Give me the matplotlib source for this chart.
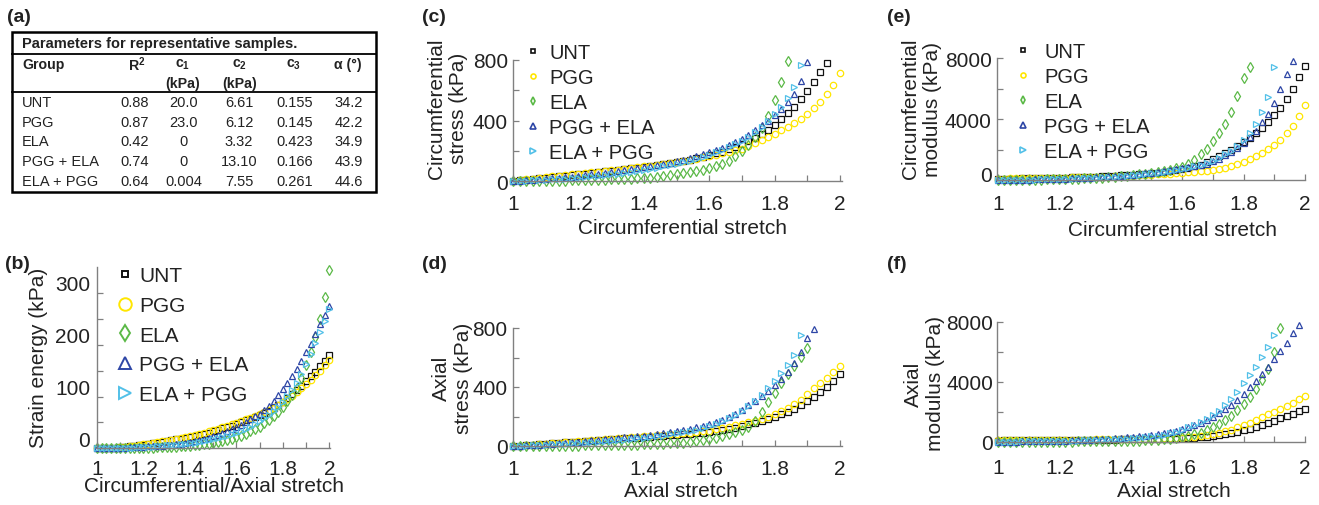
import matplotlib
matplotlib.use("Agg")
import matplotlib.pyplot as plt
from matplotlib.lines import Line2D
from matplotlib.patches import Rectangle
from matplotlib.transforms import ScaledTranslation

plt.rcParams['font.family'] = ['Liberation Sans', 'DejaVu Sans']
plt.rcParams['mathtext.fontset'] = 'custom'
plt.rcParams['mathtext.rm'] = 'Liberation Sans'
plt.rcParams['mathtext.bf'] = 'Liberation Sans:bold'

W, H = 1319, 506
TXT = '#222222'
GRAY = '#808080'
FS = 15

# ---- data ----
GROUPS = ['UNT', 'PGG', 'ELA', 'PGG + ELA', 'ELA + PGG']
COLORS = ['#111111', '#FFE600', '#5BB947', '#2E46A6', '#52C0E8']
MARKERS = ['s', 'o', 'd', '^', '>']
SIZES = [3.8, 4.6, 5.0, 4.8, 4.8]

# table (a)
T_R2 = ['0.88', '0.87', '0.42', '0.74', '0.64']
T_C1 = ['20.0', '23.0', '0', '0', '0.004']
T_C2 = ['6.61', '6.12', '3.32', '13.10', '7.55']
T_C3 = ['0.155', '0.145', '0.423', '0.166', '0.261']
T_ALPHA = ['34.2', '42.2', '34.9', '43.9', '44.6']

STRETCH = [1.00, 1.02, 1.04, 1.06, 1.08, 1.10, 1.12, 1.14, 1.16, 1.18,
           1.20, 1.22, 1.24, 1.26, 1.28, 1.30, 1.32, 1.34, 1.36, 1.38,
           1.40, 1.42, 1.44, 1.46, 1.48, 1.50, 1.52, 1.54, 1.56, 1.58,
           1.60, 1.62, 1.64, 1.66, 1.68, 1.70, 1.72, 1.74, 1.76, 1.78,
           1.80, 1.82, 1.84, 1.86, 1.88, 1.90, 1.92, 1.94, 1.96, 1.98, 2.00]

# (b) strain energy, kPa
ENERGY = [
    [0, 0.1, 0.4, 0.9, 1.5, 2.2, 3.0, 3.9, 4.9, 6.0, 7.2, 8.4, 9.7, 11, 12.4, 13.9, 15.4,
     17, 18.6, 20.3, 22, 24, 26, 28.2, 30.5, 33, 35.6, 38.3, 41.1, 44, 47, 50.3, 53.7,
     57.2, 60.6, 64, 68.2, 72.5, 77.5, 83.5, 90, 97, 104.5, 112, 120.5, 130, 139, 148,
     158, 169, 180],
    [0, 0.1, 0.4, 0.9, 1.5, 2.3, 3.2, 4.2, 5.3, 6.5, 7.8, 9.1, 10.5, 12, 13.5, 15, 16.7,
     18.4, 20.2, 22, 24, 26.1, 28.2, 30.4, 32.7, 35, 37.6, 40.3, 43.1, 46, 49, 52.3, 55.7,
     59.1, 62.5, 66, 69.8, 73.8, 78.2, 83.3, 89, 95, 101.5, 108.5, 116, 124, 132.5, 141,
     150, 160, 170],
    [0, 0, 0.1, 0.1, 0.2, 0.3, 0.4, 0.5, 0.6, 0.8, 1.0, 1.2, 1.5, 1.8, 2.1, 2.5, 2.9, 3.3,
     3.8, 4.4, 5, 5.8, 6.6, 7.6, 8.7, 10, 11.6, 13.4, 15.5, 18, 21, 24.5, 28.5, 33, 37.5,
     42, 48, 54.5, 62, 70.5, 80, 91, 103, 117, 136, 160, 186, 215, 250, 292, 345],
    [0, 0.2, 0.4, 0.6, 0.8, 1.0, 1.4, 1.8, 2.2, 2.6, 3.0, 3.5, 4.0, 4.6, 5.3, 6.0, 6.9,
     7.9, 9.0, 10.4, 12, 13.8, 15.8, 18, 20.4, 23, 26, 29.2, 32.7, 36.6, 41, 45.8, 50.8,
     56, 61.4, 67, 74, 82, 92, 103, 115, 127, 140, 154, 169, 185, 202, 220, 239, 257, 275],
    [0, 0.1, 0.2, 0.4, 0.6, 0.8, 1.0, 1.2, 1.5, 1.8, 2.2, 2.7, 3.3, 4.0, 4.8, 5.6, 6.4,
     7.3, 8.2, 9.1, 10, 11.1, 12.3, 13.6, 15.2, 17, 19.1, 21.4, 24, 26.9, 30, 33.5, 37.3,
     41.5, 46.5, 52, 57.8, 64.5, 72, 80.5, 90, 101, 113, 127, 144, 163, 183, 204, 225,
     246, 268],
]

# (c) circumferential stress, kPa
CIRC_STRESS = [
    [0, 4, 9, 13, 18, 22, 27, 31, 36, 40, 45, 49, 54, 59, 63, 68, 73, 78, 83, 88, 93, 99,
     105, 111, 118, 125, 133, 141, 150, 160, 170, 182, 195, 209, 224, 242, 262, 285, 311,
     340, 372, 408, 448, 492, 541, 596, 657, 722, 778],
    [0, 5, 10, 15, 20, 25, 30, 35, 39, 44, 49, 53, 58, 62, 67, 71, 76, 81, 86, 91, 96,
     101, 107, 113, 119, 126, 133, 140, 148, 156, 165, 174, 183, 193, 203, 214, 230, 248,
     268, 290, 312, 334, 358, 384, 412, 444, 482, 524, 577, 632, 712],
    [0, 0.2, 0.5, 0.8, 1.2, 1.6, 2.0, 2.5, 3, 3.6, 4.2, 5, 6, 7, 8.5, 10, 11.5, 13.3,
     15.3, 17.5, 20, 23, 26.5, 31, 37, 44, 51, 58, 66, 75, 85, 98, 113, 135, 163, 198,
     240, 288, 350, 432, 538, 654, 795],
    [0, 2, 4, 7, 10, 13, 17, 21, 25, 29, 34, 39, 44, 49, 54, 60, 66, 72, 78, 85, 92, 99,
     106, 113, 121, 130, 140, 151, 163, 176, 190, 205, 221, 239, 259, 280, 306, 336, 368,
     400, 436, 476, 522, 578, 660, 790],
    [0, 1, 2, 4, 6, 8, 10, 13, 16, 19, 22, 26, 30, 34, 38, 43, 48, 54, 60, 66, 73, 80,
     88, 96, 105, 114, 124, 135, 147, 160, 174, 189, 205, 223, 243, 265, 292, 322, 356,
     396, 440, 490, 548, 620, 765],
]

# (d) axial stress, kPa
AXIAL_STRESS = [
    [0, 3, 6, 9, 12, 15, 18, 21, 24, 27, 30, 33, 36, 39, 42, 45, 48, 51, 54, 57, 60, 63,
     66, 69, 72, 75, 78.5, 82, 86, 90.5, 95, 101, 108, 116, 125, 135, 146, 158, 171, 184,
     198, 214, 232, 252, 276, 302, 332, 364, 400, 440, 485],
    [0, 3.3, 6.6, 9.9, 13.2, 16.5, 19.8, 23.1, 26.4, 29.7, 33, 36.2, 39.4, 42.6, 45.8,
     49, 52.2, 55.4, 58.6, 61.8, 65, 68.3, 71.6, 75, 78.5, 82, 86, 90.3, 95, 100, 105,
     113, 121, 130, 140, 150, 160, 172, 185, 199, 215, 236, 258, 282, 315, 352, 390, 425,
     462, 502, 545],
    [0, 0.1, 0.3, 0.5, 0.8, 1.1, 1.5, 1.9, 2.3, 2.7, 3.2, 3.7, 4.2, 4.8, 5.4, 6, 6.8,
     7.6, 8.5, 9.5, 10.5, 11.7, 13, 14.8, 17, 20, 23.5, 27.5, 32, 38, 45, 54, 65, 78, 92,
     107, 130, 172, 232, 298, 362, 424, 485, 545, 605, 665],
    [0, 2.5, 5, 7.5, 10, 13, 16, 19, 22.5, 26, 30, 34, 38, 42, 46, 50, 54, 58, 62, 66, 70,
     75, 80, 86, 93, 100, 108, 117, 127, 138, 150, 163, 178, 195, 218, 245, 275, 305, 338,
     375, 415, 455, 500, 560, 640, 730, 795],
    [0, 1.5, 3, 5, 7, 9, 11, 13, 15, 17.5, 20, 23, 26, 29, 32, 35.5, 39, 43, 47, 51, 55,
     60, 65, 71, 78, 85, 93, 101, 111, 122, 135, 150, 167, 187, 211, 240, 272, 306, 344,
     390, 440, 492, 550, 620, 750],
]

# (e) circumferential modulus, kPa
CIRC_MODULUS = [
    [80, 85, 90, 96, 103, 110, 117, 125, 133, 141, 150, 161, 172, 184, 197, 210, 226,
     243, 261, 280, 300, 322, 346, 372, 400, 432, 470, 515, 570, 635, 710, 800, 900, 1010,
     1170, 1350, 1550, 1780, 2000, 2230, 2470, 2750, 3080, 3430, 3800, 4250, 4750, 5350,
     6000, 6800, 7500],
    [90, 95, 100, 106, 112, 118, 124, 130, 137, 144, 151, 159, 167, 176, 185, 195, 205,
     216, 228, 241, 255, 270, 286, 303, 322, 342, 363, 386, 411, 438, 467, 498, 530, 565,
     600, 660, 735, 815, 910, 1050, 1200, 1370, 1560, 1780, 2040, 2320, 2650, 3080, 3580,
     4200, 4900],
    [0, 2, 5, 8, 12, 17, 22, 28, 35, 43, 52, 62, 74, 87, 102, 119, 138, 160, 185, 213,
     245, 280, 320, 365, 415, 470, 530, 600, 680, 775, 885, 1070, 1340, 1680, 2060, 2540,
     3060, 3700, 4480, 5500, 6700, 7400],
    [0, 3, 7, 12, 18, 25, 33, 42, 52, 63, 75, 89, 104, 121, 140, 160, 182, 206, 232, 260,
     290, 322, 357, 395, 436, 480, 528, 580, 637, 700, 768, 842, 922, 1000, 1060, 1230,
     1410, 1620, 1870, 2130, 2460, 2800, 3230, 3780, 4330, 5040, 5950, 6950, 7850],
    [0, 2, 5, 9, 14, 20, 27, 35, 44, 54, 65, 77, 90, 105, 121, 139, 158, 179, 202, 227,
     255, 285, 318, 354, 393, 436, 483, 535, 592, 655, 725, 805, 895, 1000, 1120, 1260,
     1440, 1690, 1920, 2220, 2630, 3100, 3700, 4450, 5450, 7400],
]

# (f) axial modulus, kPa
AXIAL_MODULUS = [
    [80, 83, 86, 89, 92, 95, 98, 101, 104, 107, 110, 114, 118, 122, 126, 130, 134, 138,
     142, 146, 150, 156, 162, 168, 174, 180, 187, 194, 201, 210, 220, 240, 265, 292, 325,
     360, 420, 490, 570, 655, 750, 860, 980, 1110, 1250, 1400, 1560, 1720, 1880, 2040,
     2200],
    [90, 93, 96, 99, 102, 105, 108, 111, 114, 117, 120, 125, 130, 135, 140, 145, 150, 155,
     160, 165, 170, 176, 182, 188, 194, 200, 210, 220, 232, 245, 260, 295, 340, 390, 445,
     505, 590, 690, 810, 950, 1100, 1270, 1450, 1630, 1815, 2000, 2200, 2400, 2610, 2830,
     3050],
    [0, 1, 2, 3, 4, 5, 6, 7, 8, 9, 10, 11.5, 13, 15, 17, 20, 24, 29, 35, 42, 50, 59, 69,
     80, 94, 110, 130, 157, 192, 245, 320, 400, 495, 605, 760, 950, 1180, 1440, 1740,
     2090, 2500, 2980, 3500, 4100, 4850, 6000, 7600],
    [0, 3, 7, 12, 18, 24, 31, 38, 45, 52, 60, 72, 85, 100, 117, 135, 155, 176, 200, 225,
     250, 283, 318, 357, 400, 450, 510, 575, 650, 745, 850, 975, 1110, 1260, 1440, 1650,
     1890, 2150, 2450, 2800, 3200, 3630, 4070, 4530, 5010, 5500, 6030, 6580, 7250, 7750],
    [0, 2, 5, 9, 14, 19, 25, 30, 36, 43, 50, 59, 69, 80, 92, 105, 119, 134, 150, 165,
     180, 205, 235, 270, 308, 350, 410, 480, 565, 675, 800, 950, 1120, 1310, 1520, 1750,
     2070, 2420, 2820, 3320, 3900, 4440, 5000, 5630, 6300, 7100],
]


def px(x, y):
    return x / W, 1 - y / H


fig = plt.figure(figsize=(W / 100, H / 100), dpi=100)

# ---- (a) table ----
fig.text(*px(7, 18), '(a)', fontsize=14, fontweight='bold', va='center', color=TXT)
fig.add_artist(Rectangle(px(12, 193), 364 / W, 160 / H, transform=fig.transFigure,
                         fill=False, lw=1.8, ec='black'))
for yy in (55, 93):
    fig.add_artist(Line2D([12 / W, 376 / W], [1 - yy / H] * 2, transform=fig.transFigure,
                          lw=1.3, color='black'))
fig.text(*px(22, 44), 'Parameters for representative samples.', fontsize=10.5,
         fontweight='bold', va='center', color=TXT)
head_x = [137, 183, 240, 294, 348]
heads = [r'$\mathbf{R^2}$', r'$\mathbf{c_1}$', r'$\mathbf{c_2}$', r'$\mathbf{c_3}$', 'α (°)']
fig.text(*px(22, 65), 'Group', fontsize=10.2, fontweight='bold', va='center', color=TXT)
for hx, h in zip(head_x, heads):
    fig.text(*px(hx, 65), h, fontsize=10.2, fontweight='bold', ha='center', va='center',
             color=TXT)
for hx in (183, 240):
    fig.text(*px(hx, 84), '(kPa)', fontsize=10.2, fontweight='bold', ha='center',
             va='center', color=TXT)
col_x = [135, 184, 239, 295, 349]
for i, g in enumerate(GROUPS):
    yy = 103 + i * 19.7
    fig.text(*px(22, yy), g, fontsize=10.5, va='center', color=TXT)
    row = [T_R2[i], T_C1[i], T_C2[i], T_C3[i], T_ALPHA[i]]
    for cx, v in zip(col_x, row):
        fig.text(*px(cx, yy), v, fontsize=10.5, ha='center', va='center', color=TXT)


def panel(rect, data, xlim, ylim, ytop, yt_labels, ylabel, xlabel, ylab_xy, xlab_xy,
          xpad, ypad, ytick_step):
    ax = fig.add_axes(rect)
    for i in range(len(GROUPS)):
        vals = data[i]
        ax.plot(STRETCH[:len(vals)], vals, ls='none', marker=MARKERS[i], ms=SIZES[i],
                mfc='none', mec=COLORS[i], mew=0.9, clip_on=False)
    ax.set_xlim(*xlim)
    ax.set_ylim(*ylim)
    ax.set_xticks([1.0, 1.2, 1.4, 1.6, 1.8, 2.0])
    ax.set_xticklabels(['1', '1.2', '1.4', '1.6', '1.8', '2'])
    ax.set_xticks([1.1, 1.3, 1.5, 1.7, 1.9], minor=True)
    yt = []
    v = 0
    while v <= ytop:
        yt.append(v)
        v += ytick_step
    ax.set_yticks(yt)
    ax.set_yticklabels([str(t) if t in yt_labels else '' for t in yt])
    for s in ('top', 'right'):
        ax.spines[s].set_visible(False)
    for s in ('left', 'bottom'):
        ax.spines[s].set_color(GRAY)
        ax.spines[s].set_linewidth(1.0)
    ax.tick_params(which='both', direction='in', length=4, width=0.9, color=GRAY,
                   labelsize=FS, labelcolor=TXT)
    ax.tick_params(axis='x', which='both', pad=xpad)
    ax.tick_params(axis='y', which='both', pad=ypad)
    ax.set_ylabel(ylabel, fontsize=FS, color=TXT, va='center', linespacing=1.2)
    ax.yaxis.set_label_coords(*ylab_xy)
    ax.set_xlabel(xlabel, fontsize=FS, color=TXT, va='center')
    ax.xaxis.set_label_coords(*xlab_xy)
    ax.patch.set_alpha(0)
    return ax


def lift_labels(ax, shift_px, only_zero=False):
    # y tick labels sit a little above their ticks in the reference
    for t, lbl in zip(ax.get_yticks(), ax.get_yticklabels()):
        if only_zero and t != 0:
            continue
        lbl.set_transform(lbl.get_transform() +
                          ScaledTranslation(0, shift_px / 100, fig.dpi_scale_trans))


def legend(ax, anchor, sizes, spacing, textpad, mew, fs):
    handles = [Line2D([], [], ls='none', marker=MARKERS[i], ms=sizes[i], mfc='none',
                      mec=COLORS[i], mew=mew) for i in range(len(GROUPS))]
    leg = ax.legend(handles, GROUPS, loc='upper left', bbox_to_anchor=anchor,
                    bbox_transform=fig.transFigure, frameon=False, fontsize=fs,
                    handlelength=0.8, handletextpad=textpad, labelspacing=spacing,
                    borderpad=0, borderaxespad=0)
    for t in leg.get_texts():
        t.set_color(TXT)


# ---- (b) ----
fig.text(*px(5, 265), '(b)', fontsize=14, fontweight='bold', va='center', color=TXT)
ax_b = panel([97 / W, (H - 449.3) / H, 233 / W, 181.3 / H], ENERGY, (1.0, 2.003), (0, 350),
             300, [0, 100, 200, 300], 'Strain energy (kPa)',
             'Circumferential/Axial stretch', (-0.253, 0.504), (0.5, -0.206), 8, 5, 50)
lift_labels(ax_b, 10)
legend(ax_b, px(117, 267), [5, 9, 8, 8, 8], 0.52, 0.27, 1.4, FS)

# ---- (c) ----
fig.text(*px(422, 18), '(c)', fontsize=14, fontweight='bold', va='center', color=TXT)
ax_c = panel([513 / W, (H - 182) / H, 329 / W, 121 / H], CIRC_STRESS, (1.0, 2.006),
             (0, 800), 800, [0, 400, 800], 'Circumferential\nstress (kPa)',
             'Circumferential stretch', (-0.198, 0.607), (0.514, -0.383), 9, 3.6, 200)
legend(ax_c, px(525, 44), [2.6, 3.6, 3.8, 4.2, 4.2], 0.3, 0.4, 1.2, 14.5)

# ---- (d) ----
fig.text(*px(422, 265), '(d)', fontsize=14, fontweight='bold', va='center', color=TXT)
panel([513 / W, (H - 447) / H, 329 / W, 118 / H], AXIAL_STRESS, (1.0, 2.006), (0, 800),
      800, [0, 400, 800], 'Axial\nstress (kPa)', 'Axial stretch',
      (-0.184, 0.58), (0.511, -0.379), 9.5, 4, 200)

# ---- (e) ----
fig.text(*px(887, 18), '(e)', fontsize=14, fontweight='bold', va='center', color=TXT)
ax_e = panel([997 / W, (H - 181) / H, 308 / W, 121.7 / H], CIRC_MODULUS, (0.997, 2.0),
             (0, 8000), 8000, [0, 4000, 8000], 'Circumferential\nmodulus (kPa)',
             'Circumferential stretch', (-0.245, 0.59), (0.571, -0.403), 10, 3.8, 2000)
lift_labels(ax_e, 7, only_zero=True)
legend(ax_e, px(1015, 43), [2.6, 3.6, 3.8, 4.2, 4.2], 0.3, 0.64, 1.2, 14.5)

# ---- (f) ----
fig.text(*px(887, 265), '(f)', fontsize=14, fontweight='bold', va='center', color=TXT)
panel([997 / W, (H - 442.7) / H, 308 / W, 120 / H], AXIAL_MODULUS, (0.997, 2.0),
      (0, 8000), 8000, [0, 4000, 8000], 'Axial\nmodulus (kPa)', 'Axial stretch',
      (-0.235, 0.49), (0.573, -0.408), 12, 2.7, 2000)

fig.savefig('out.png', dpi=100)
